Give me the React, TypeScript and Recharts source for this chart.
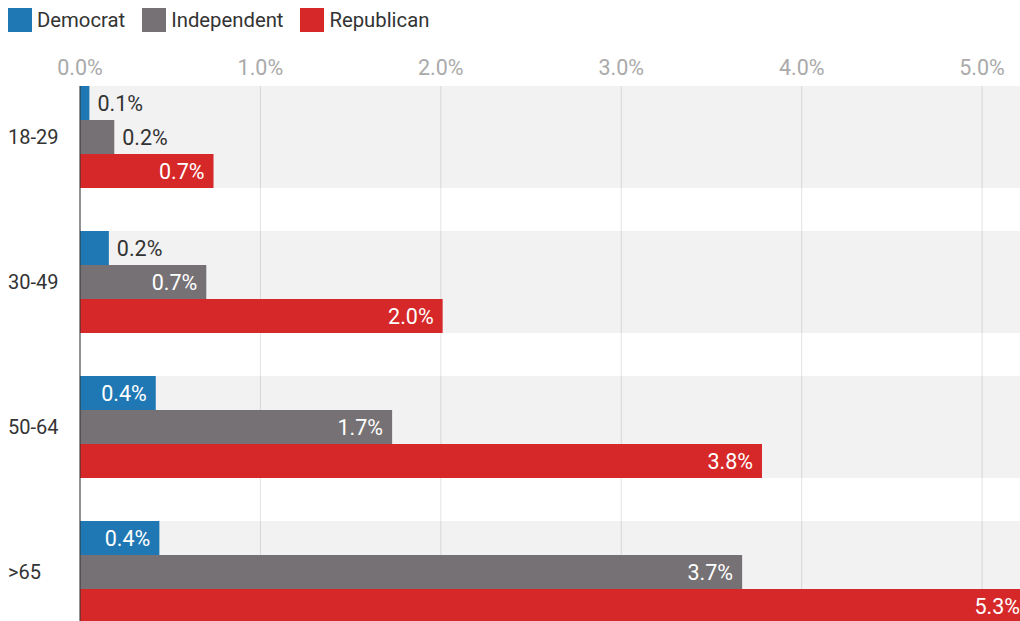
import { BarChart, Bar, XAxis, YAxis, CartesianGrid, Legend, LabelList } from "recharts";

const AGE_GROUPS = ["18-29", "30-49", "50-64", ">65"];
const DEMOCRAT = [0.052, 0.16, 0.42, 0.44];
const INDEPENDENT = [0.19, 0.7, 1.73, 3.67];
const REPUBLICAN = [0.74, 2.01, 3.78, 5.26];
const X_TICKS = [0, 1, 2, 3, 4, 5];

const SERIES = [
  { key: "democrat", name: "Democrat", color: "#1f78b4" },
  { key: "independent", name: "Independent", color: "#767174" },
  { key: "republican", name: "Republican", color: "#d62828" },
];

const data = AGE_GROUPS.map((age, i) => ({
  age,
  democrat: DEMOCRAT[i],
  independent: INDEPENDENT[i],
  republican: REPUBLICAN[i],
}));

const TEXT = "#333333";
const fmt = (v: number) => `${v.toFixed(1)}%`;

function LegendContent({ payload }: any) {
  return (
    <div style={{ display: "flex", alignItems: "center" }}>
      {(payload || []).map((p: any) => (
        <div key={p.value} style={{ display: "flex", alignItems: "center", marginRight: 17 }}>
          <div style={{ width: 24, height: 24, background: p.color, marginRight: 5 }} />
          <span style={{ fontSize: 20.3, color: TEXT, lineHeight: "24px" }}>{p.value}</span>
        </div>
      ))}
    </div>
  );
}

function CategoryTick({ y, payload }: any) {
  return (
    <text x={8} y={y} dy="0.35em" fontSize={20} fill={TEXT} textAnchor="start">
      {payload.value}
    </text>
  );
}

function BarValue({ x, y, width, height, value }: any) {
  const inside = value >= 0.3;
  return (
    <text
      x={inside ? x + width - 9 : x + width + 8}
      y={y + height / 2}
      dy="0.35em"
      fontSize={21.5}
      textAnchor={inside ? "end" : "start"}
      fill={inside ? "#ffffff" : TEXT}
    >
      {fmt(value)}
    </text>
  );
}

export default function App() {
  return (
    <div
      style={{
        position: "absolute",
        left: 0,
        top: 0,
        width: 1020,
        height: 621,
        overflow: "hidden",
        background: "#fff",
        fontFamily: "Roboto, sans-serif",
      }}
    >
      <BarChart
        width={1029}
        height={645}
        data={data}
        layout="vertical"
        margin={{ top: 56, right: 0, bottom: 0, left: 0 }}
        barCategoryGap={21.5}
        barGap={0}
      >
        <CartesianGrid horizontal={false} stroke="#e3e3e3" />
        <XAxis
          type="number"
          orientation="top"
          domain={[0, "dataMax"]}
          ticks={X_TICKS}
          interval={0}
          tickFormatter={fmt}
          axisLine={false}
          tickLine={false}
          tickMargin={5}
          tick={{ fill: "#aaaaaa", fontSize: 21.5 }}
        />
        <YAxis
          type="category"
          dataKey="age"
          width={80}
          interval={0}
          tickLine={false}
          axisLine={{ stroke: TEXT, strokeWidth: 1 }}
          tick={<CategoryTick />}
          padding={{ top: -21.5, bottom: 0.5 }}
        />
        <Legend
          layout="horizontal"
          verticalAlign="middle"
          align="center"
          wrapperStyle={{ top: 8, left: 8, width: "auto" }}
          content={<LegendContent />}
        />
        {SERIES.map((s) => (
          <Bar
            key={s.key}
            dataKey={s.key}
            name={s.name}
            fill={s.color}
            background={{ fill: "#000", fillOpacity: 0.05 }}
            isAnimationActive={false}
          >
            <LabelList dataKey={s.key} content={<BarValue />} />
          </Bar>
        ))}
      </BarChart>
    </div>
  );
}
